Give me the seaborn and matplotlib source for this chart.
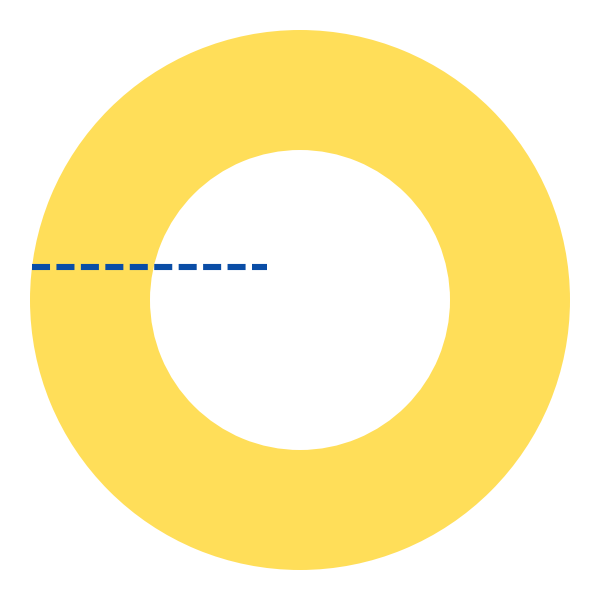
import matplotlib
matplotlib.use("Agg")
import matplotlib.pyplot as plt
import seaborn as sns

# --- Data ---
slice_labels = ["Total"]
slice_values = [1.0]
slice_colors = ["#FFDE59"]

# reference line (data coords, pie radius = 1)
line_x = [-0.993, -0.123]
line_y = [0.124, 0.124]
line_color = "#0A4DA6"

sns.set_theme(style="white")

fig = plt.figure(figsize=(6, 6), dpi=100)
ax = fig.add_axes([0, 0, 1, 1])

ax.pie(slice_values, labels=None, colors=slice_colors, radius=1.0,
       startangle=90, counterclock=False,
       wedgeprops=dict(width=120 / 270, edgecolor="none"))

sns.lineplot(x=line_x, y=line_y, ax=ax, color=line_color, linewidth=4.4,
             dashes=False, legend=False)
ax.lines[-1].set_dashes((2.95, 1.05))
ax.lines[-1].set_dash_capstyle("butt")

lim = 300 / 270
ax.set_xlim(-lim, lim)
ax.set_ylim(-lim, lim)
ax.set_aspect("equal")
ax.axis("off")

fig.savefig("out.png", dpi=100, facecolor="white")
